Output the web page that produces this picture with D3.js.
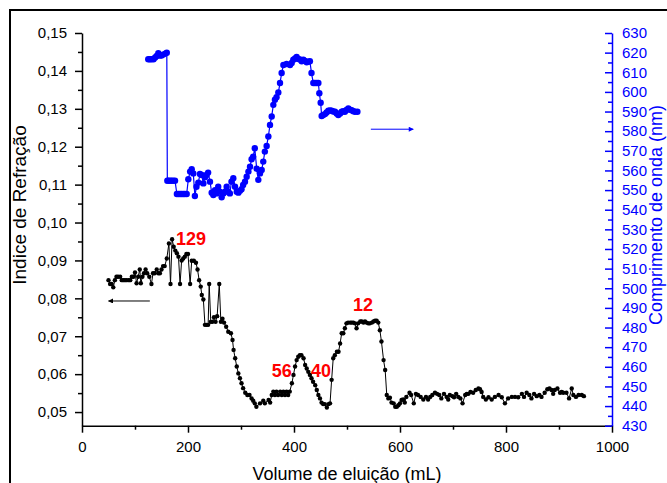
<!DOCTYPE html>
<html>
<head>
<meta charset="utf-8">
<script src="https://cdn.jsdelivr.net/npm/d3@7"></script>
<style>
  html, body { margin: 0; padding: 0; background: #fff; }
  svg text { font-family: "Liberation Sans", Arial, sans-serif; }
</style>
</head>
<body>
<svg id="chart" width="667" height="483"></svg>
<script>
// ---------- DATA ----------
const riVolume = [50,53,56,59,62,65,68,72,75,78,81,84,88,91,94,97,100,103,106,109,111,114,117,120,123,127,131,134,137,141,144,147,150,153,156,160,164,167,170,173,176,179,182,185,188,191,194,197,200,204,207,211,215,218,221,224,226,229,232,235,238,240,243,246,249,252,255,259,262,265,268,272,276,281,284,286,289,292,295,298,301,304,308,312,316,320,323,326,329,336,342,345,352,355,358,361,364,367,370,374,377,380,383,386,389,392,396,399,402,405,408,411,414,418,421,424,427,430,433,436,440,443,446,449,452,455,458,462,465,468,471,474,477,481,484,487,490,493,496,499,502,506,509,512,515,518,521,525,528,531,534,537,540,543,547,550,553,556,559,562,565,569,572,575,578,581,584,588,591,594,597,600,603,606,609,612,618,621,626,630,634,639,644,649,653,657,661,666,670,674,678,683,688,691,694,699,702,706,710,714,718,723,726,729,733,738,743,748,751,754,757,762,767,773,779,786,792,798,804,811,817,823,830,834,839,844,848,853,858,863,867,873,878,882,886,889,892,897,902,905,908,914,919,924,927,932,937,943,947];
const riIndex = [0.0848,0.0838,0.0838,0.0829,0.0848,0.0857,0.0857,0.0857,0.0848,0.0848,0.0848,0.0848,0.0848,0.0848,0.0857,0.0857,0.0868,0.0840,0.0857,0.0876,0.0840,0.0857,0.0866,0.0876,0.0866,0.0857,0.0838,0.0866,0.0866,0.0876,0.0866,0.0866,0.0876,0.0885,0.0885,0.0905,0.0945,0.0838,0.0956,0.0936,0.0926,0.0919,0.0910,0.0838,0.0900,0.0905,0.0910,0.0917,0.0917,0.0838,0.0899,0.0899,0.0894,0.0876,0.0848,0.0831,0.0809,0.0797,0.0730,0.0730,0.0730,0.0838,0.0738,0.0738,0.0750,0.0738,0.0753,0.0838,0.0738,0.0746,0.0736,0.0725,0.0712,0.0708,0.0690,0.0664,0.0642,0.0620,0.0602,0.0589,0.0576,0.0563,0.0551,0.0545,0.0545,0.0536,0.0530,0.0523,0.0514,0.0523,0.0530,0.0523,0.0532,0.0525,0.0545,0.0554,0.0545,0.0554,0.0545,0.0554,0.0545,0.0554,0.0545,0.0554,0.0545,0.0554,0.0576,0.0598,0.0620,0.0637,0.0646,0.0650,0.0650,0.0642,0.0624,0.0615,0.0606,0.0598,0.0589,0.0580,0.0571,0.0558,0.0545,0.0536,0.0525,0.0521,0.0521,0.0512,0.0521,0.0523,0.0585,0.0642,0.0650,0.0659,0.0659,0.0681,0.0708,0.0708,0.0721,0.0734,0.0736,0.0736,0.0736,0.0736,0.0734,0.0721,0.0734,0.0739,0.0739,0.0736,0.0739,0.0736,0.0734,0.0734,0.0736,0.0739,0.0741,0.0741,0.0736,0.0716,0.0686,0.0637,0.0611,0.0545,0.0536,0.0538,0.0525,0.0523,0.0514,0.0514,0.0518,0.0523,0.0532,0.0533,0.0525,0.0540,0.0551,0.0545,0.0523,0.0548,0.0545,0.0540,0.0533,0.0540,0.0533,0.0540,0.0545,0.0551,0.0548,0.0545,0.0536,0.0548,0.0540,0.0533,0.0545,0.0542,0.0539,0.0548,0.0540,0.0536,0.0523,0.0545,0.0548,0.0548,0.0553,0.0551,0.0558,0.0562,0.0560,0.0553,0.0540,0.0533,0.0539,0.0533,0.0540,0.0545,0.0539,0.0523,0.0536,0.0540,0.0540,0.0539,0.0548,0.0540,0.0551,0.0545,0.0536,0.0548,0.0542,0.0545,0.0540,0.0551,0.0560,0.0562,0.0558,0.0548,0.0558,0.0562,0.0551,0.0553,0.0551,0.0551,0.0536,0.0562,0.0545,0.0540,0.0545,0.0545,0.0542];

const wlVolume = [125,128,131,135,138,141,144,147,150,153,157,160,161,163,166,169,172,175.5,179,182,185,188,191,194,197.5,200.6,204,207,210,213,216,219.5,222.6,226,229,232,235,238,241.5,244.7,247.8,251,254,257,260,263.5,266.7,269.8,273,276,279,282,285.5,288.7,292,295,298,301,304,307.5,310.7,314,317,320,323,326,329.6,332.7,335.8,339,342,345,348.4,351.6,354.7,357.9,361,364,367,370.4,373.6,376.7,380,386,392.5,395.6,398.7,402,405,408,411,414.5,417.6,421,424,427,430,433,436.5,439.6,443,446,447.8,450.3,452.2,455,458.5,461.5,464.8,468,471,474,477.4,480.5,483.6,487,490,493,496,499,502.5,505.5,508.8,512,515,519.6];
const wlNm = [616.6,616.6,616.6,616.6,617.5,618.3,619.7,618.5,618.5,619.0,619.5,620.0,554.8,554.8,554.8,554.8,554.8,554.8,548.0,548.0,548.0,548.0,548.0,548.0,548.0,555.5,559.4,560.6,558.5,547.0,551.7,553.8,558.2,557.7,553.4,556.5,557.7,558.9,554.3,548.7,547.5,550.0,548.3,551.7,549.2,546.3,548.3,549.2,551.7,549.2,548.3,554.3,556.0,551.7,549.2,548.7,549.6,550.4,552.6,554.3,556.8,559.4,561.9,565.7,567.0,571.3,560.9,555.2,558.5,560.2,564.5,569.6,572.5,577.3,583.2,587.5,593.4,596.0,597.3,599.7,604.5,609.6,613.7,614.2,613.7,614.7,616.4,617.0,617.8,616.8,616.5,615.6,616.4,615.8,615.1,615.4,615.6,609.6,604.5,604.5,604.5,604.5,599.3,594.5,587.7,588.2,588.7,589.5,590.4,590.6,590.4,590.0,589.9,589.0,588.2,589.0,589.9,590.2,589.9,590.8,591.6,591.0,590.7,590.2,589.9,589.9];

const xTicks = [0, 200, 400, 600, 800, 1000];
const xMinorTicks = [100, 300, 500, 700, 900];
const yLeftTicks = [0.05, 0.06, 0.07, 0.08, 0.09, 0.10, 0.11, 0.12, 0.13, 0.14, 0.15];
const yLeftMinor = [0.055, 0.065, 0.075, 0.085, 0.095, 0.105, 0.115, 0.125, 0.135, 0.145];
const yRightTicks = d3.range(430, 631, 10);
const yRightMinor = d3.range(435, 630, 10);

const peakLabels = ["129", "56", "40", "12"];
const peakVolume = [205.7, 376.8, 451, 530];
const peakIndex = [0.0941, 0.0592, 0.0592, 0.0767];

const xTitle = "Volume de eluição (mL)";
const yLeftTitle = "Indice de Refração";
const yRightTitle = "Comprimento de onda (nm)";

// ---------- DRAW ----------
const svg = d3.select("#chart");
const BLUE = "#0000FF";

svg.append("rect").attr("width", 667).attr("height", 483).attr("fill", "#fff");
svg.append("rect").attr("x", 10).attr("y", 10).attr("width", 720).attr("height", 520)
  .attr("fill", "none").attr("stroke", "#000").attr("stroke-width", 2);

const x = d3.scaleLinear().domain([0, 1000]).range([82, 612]);
const yL = d3.scaleLinear().domain([0.0464, 0.15]).range([425.7, 33]);
const yR = d3.scaleLinear().domain([430, 630]).range([425.7, 33]);

const fmtComma = d => d3.format(".2f")(d).replace(".", ",");

// bottom axis
const gx = svg.append("g").attr("transform", "translate(0,425.7)");
gx.call(d3.axisBottom(x).tickValues(xTicks).tickSize(7).tickSizeOuter(0).tickPadding(9).tickFormat(d3.format("d")));
gx.append("g").call(d3.axisBottom(x).tickValues(xMinorTicks).tickSize(4).tickFormat("").tickSizeOuter(0))
  .select(".domain").remove();

// left axis
const gl = svg.append("g").attr("transform", "translate(82,0)");
gl.call(d3.axisLeft(yL).tickValues(yLeftTicks).tickSize(7).tickSizeOuter(0).tickPadding(8).tickFormat(fmtComma));
gl.append("g").call(d3.axisLeft(yL).tickValues(yLeftMinor).tickSize(4).tickFormat("").tickSizeOuter(0))
  .select(".domain").remove();

// right axis
const gr = svg.append("g").attr("transform", "translate(612,0)");
gr.call(d3.axisRight(yR).tickValues(yRightTicks).tickSize(-7).tickSizeOuter(0).tickPadding(10).tickFormat(d3.format("d")));
gr.append("g").call(d3.axisRight(yR).tickValues(yRightMinor).tickSize(-4).tickFormat("").tickSizeOuter(0))
  .select(".domain").remove();

[gx, gl].forEach(g => {
  g.selectAll("path,line").attr("stroke", "#000").attr("stroke-width", 1.5);
  g.selectAll("text").attr("font-size", 15).attr("fill", "#000");
});
gr.selectAll("path,line").attr("stroke", BLUE).attr("stroke-width", 1.5);
gr.selectAll("text").attr("font-size", 15).attr("fill", BLUE);

// titles
svg.append("text").attr("x", 347).attr("y", 480).attr("text-anchor", "middle")
  .attr("font-size", 18).attr("fill", "#000").text(xTitle);
svg.append("text").attr("transform", "translate(26,205) rotate(-90)").attr("text-anchor", "middle")
  .attr("font-size", 19).attr("fill", "#000").text(yLeftTitle);
svg.append("text").attr("transform", "translate(662,215) rotate(-90)").attr("text-anchor", "middle")
  .attr("font-size", 18).attr("fill", BLUE).text(yRightTitle);

// blue series
const wlData = wlVolume.map((v, i) => [v, wlNm[i]]);
svg.append("path").datum(wlData)
  .attr("fill", "none").attr("stroke", BLUE).attr("stroke-width", 1.2)
  .attr("d", d3.line().x(d => x(d[0])).y(d => yR(d[1])));
svg.append("g").selectAll("circle").data(wlData).join("circle")
  .attr("cx", d => x(d[0])).attr("cy", d => yR(d[1])).attr("r", 3.2).attr("fill", BLUE);

// black series
const riData = riVolume.map((v, i) => [v, riIndex[i]]);
svg.append("path").datum(riData)
  .attr("fill", "none").attr("stroke", "#000").attr("stroke-width", 1)
  .attr("d", d3.line().x(d => x(d[0])).y(d => yL(d[1])));
svg.append("g").selectAll("circle").data(riData).join("circle")
  .attr("cx", d => x(d[0])).attr("cy", d => yL(d[1])).attr("r", 2.2).attr("fill", "#000");

// arrows
const defs = svg.append("defs");
function marker(id, color) {
  defs.append("marker").attr("id", id).attr("viewBox", "0 0 10 10").attr("refX", 9).attr("refY", 5)
    .attr("markerWidth", 8).attr("markerHeight", 5).attr("orient", "auto").attr("markerUnits", "userSpaceOnUse")
    .append("path").attr("d", "M0,0 L10,5 L0,10 Z").attr("fill", color);
}
marker("arrK", "#000");
marker("arrB", BLUE);
svg.append("line").attr("x1", x(128)).attr("y1", yL(0.0793)).attr("x2", x(50)).attr("y2", yL(0.0793))
  .attr("stroke", "#000").attr("stroke-width", 1).attr("marker-end", "url(#arrK)");
svg.append("line").attr("x1", x(545)).attr("y1", yR(581)).attr("x2", x(625)).attr("y2", yR(581))
  .attr("stroke", BLUE).attr("stroke-width", 1).attr("marker-end", "url(#arrB)");

// peak labels
svg.append("g").selectAll("text").data(peakLabels).join("text")
  .attr("x", (d, i) => x(peakVolume[i])).attr("y", (d, i) => yL(peakIndex[i]))
  .attr("text-anchor", "middle").attr("font-size", 18).attr("font-weight", "bold")
  .attr("fill", "#FF0000").text(d => d);
</script>
</body>
</html>
